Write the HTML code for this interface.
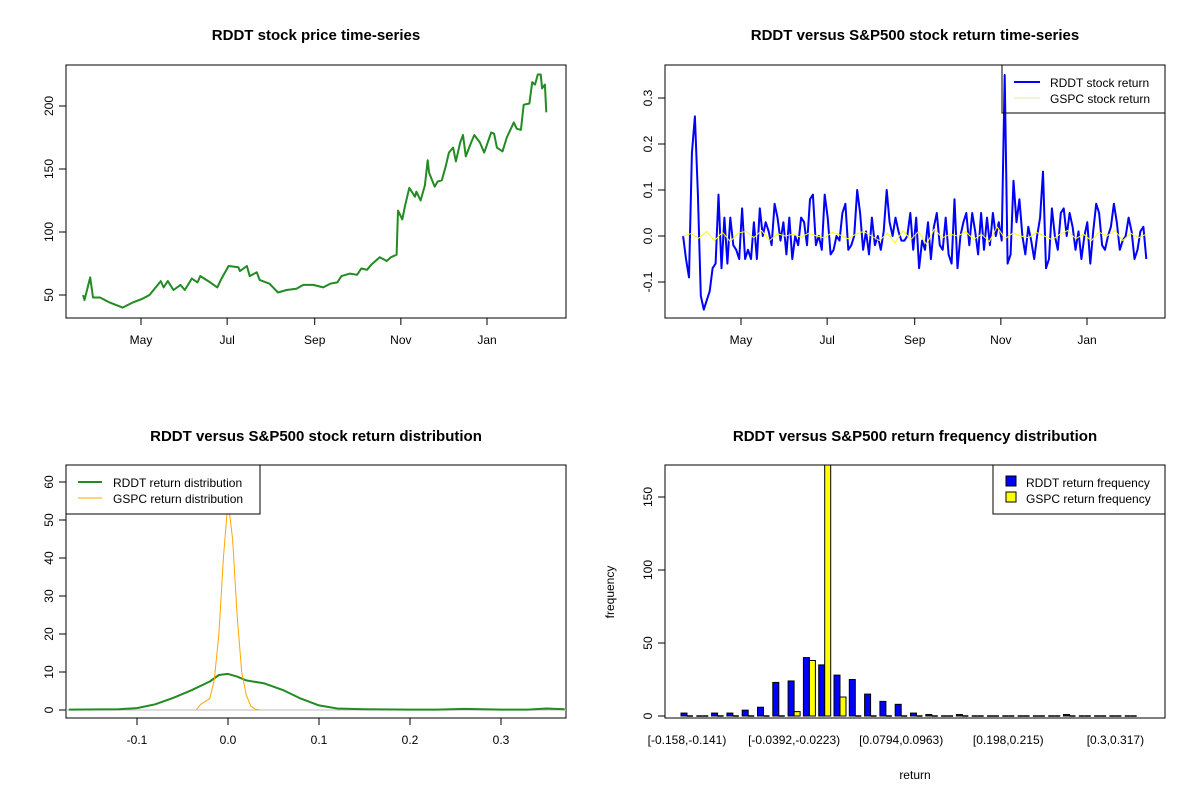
<!DOCTYPE html>
<html><head><meta charset="utf-8"><style>
body{margin:0;background:#fff;}
svg{display:block;font-family:"Liberation Sans",Arial,sans-serif;}
.t{font-weight:bold;font-size:15px;text-anchor:middle;}
.tk{font-size:12px;}
</style></head><body>
<svg id="c" width="1200" height="800"></svg>
<script>
// ---- Panel 1: price ----
const priceDays=[20,21,25,27,32,39,48,55,62,67,75,77,80,84,89,92,97,101,103,110,115,118,123,130,131,136,138,143,145,152,158,164,171,176,183,190,195,200,203,209,214,217,221,224,230,235,238,242,243,246,248,251,255,256,259,262,264,265,269,271,274,277,279,282,284,287,289,291,294,297,301,304,309,311,313,317,320,325,327,330,332,336,338,340,342,344,345,347,348];
const priceVals=[50,46,64,48,48,44,40,44,47,50,61,56,61,54,58,54,63,60,65,60,56,63,73,72,69,73,65,68,62,59,52,54,55,58,58,56,59,60,65,67,66,71,70,74,80,77,80,82,117,110,121,135,128,132,125,137,157,147,136,140,141,153,163,167,156,171,177,160,169,177,171,163,179,178,167,164,175,187,182,181,201,202,219,217,225,225,214,217,195];
const monthTicks=[61,122,184,245,306];
const monthLabels=["May","Jul","Sep","Nov","Jan"];
const priceTicks=[50,100,150,200];
// ---- Panel 2: returns ----
const rddtRet=[0,-0.05,-0.09,0.18,0.26,0.09,-0.13,-0.16,-0.14,-0.12,-0.07,-0.06,0.09,-0.07,0.04,-0.06,0.04,-0.02,-0.03,-0.05,0.06,-0.05,-0.03,-0.05,0.03,-0.05,0.06,0.0,0.03,0.01,-0.02,0.07,0.04,-0.01,0.03,-0.04,0.04,-0.05,0.0,-0.02,0.04,0.03,-0.02,0.08,0.09,-0.02,0.0,-0.03,0.09,0.04,-0.04,-0.03,0.0,-0.01,0.05,0.07,-0.03,-0.02,0.0,0.1,0.05,-0.03,0.01,-0.04,0.04,-0.02,0.0,-0.03,0.01,0.1,0.03,0.0,0.04,0.01,-0.01,-0.01,0.0,0.05,-0.03,0.04,-0.07,-0.01,-0.03,0.03,-0.05,0.02,0.05,-0.02,-0.03,0.04,-0.04,-0.06,0.08,-0.07,0.0,0.03,0.05,-0.02,0.05,0.01,-0.04,0.05,-0.03,0.04,-0.02,0.05,0.0,0.03,-0.01,0.35,-0.06,-0.04,0.12,0.03,0.08,0.0,-0.04,0.02,-0.01,-0.05,0.0,0.04,0.14,-0.07,-0.05,0.06,0.0,-0.03,0.05,0.06,0.0,0.05,0.02,-0.03,0.01,-0.05,0.0,0.03,-0.06,0.01,0.07,0.05,-0.02,-0.03,0.0,0.02,0.07,0.03,-0.03,-0.01,0.0,0.04,0.01,-0.05,-0.03,0.01,0.02,-0.05];
const gspcRet=[0,0.005,-0.005,0.01,-0.01,0.008,-0.012,0.006,0.01,-0.004,0.012,-0.01,0.005,0.0,0.004,-0.003,0.006,0.0,-0.004,0.008,0.002,-0.006,0.004,0.01,0.0,-0.01,0.006,-0.015,0.012,-0.008,0.01,-0.018,0.015,-0.004,0.004,0.0,0.01,-0.008,0.004,-0.012,0.02,-0.006,0.006,0.0,-0.004,0.008,0.0,-0.008,0.004,0.012,-0.006,0.004,-0.01,0.008,0.0,0.012,-0.01,0.006,-0.004,0.004];
const retTicks=[-0.1,0,0.1,0.2,0.3];
// ---- Panel 3: density ----
const rddtDx=[-0.175,-0.14,-0.12,-0.1,-0.08,-0.06,-0.04,-0.02,-0.01,0,0.01,0.02,0.04,0.06,0.08,0.1,0.12,0.15,0.2,0.23,0.26,0.3,0.33,0.35,0.37];
const rddtDy=[0.1,0.15,0.2,0.5,1.5,3.2,5.2,7.5,9.2,9.5,8.8,7.8,7,5.3,3,1.2,0.4,0.2,0.1,0.1,0.3,0.1,0.1,0.4,0.2];
const gspcDx=[-0.035,-0.03,-0.02,-0.015,-0.01,-0.005,0,0.005,0.01,0.015,0.02,0.025,0.03,0.035];
const gspcDy=[0,1.5,3,8,20,40,55,45,25,10,4,1,0.2,0];
const densXTicks=[-0.1,0,0.1,0.2,0.3];
const densYTicks=[0,10,20,30,40,50,60];
// ---- Panel 4: histogram ----
const rddtFreq=[2,0,2,2,4,6,23,24,40,35,28,25,15,10,8,2,1,0,1,0,0,0,0,0,0,1,0,0,0,0];
const gspcFreq=[0,0,0,0,0,0,0,3,38,174,13,0,0,0,0,0,0,0,0,0,0,0,0,0,0,0,0,0,0,0];
const binLabels={0:"[-0.158,-0.141)",7:"[-0.0392,-0.0223)",14:"[0.0794,0.0963)",21:"[0.198,0.215)",28:"[0.3,0.317)"};
const freqTicks=[0,50,100,150];

const svg=document.getElementById('c');const NS="http://www.w3.org/2000/svg";
function el(t,a,txt){const e=document.createElementNS(NS,t);for(const k in a)e.setAttribute(k,a[k]);if(txt!==undefined)e.textContent=txt;svg.appendChild(e);return e;}
function lin(d0,d1,r0,r1){return v=>r0+(v-d0)/(d1-d0)*(r1-r0);}
function box(x0,y0,x1,y1,n){const e=el('rect',{x:x0,y:y0,width:x1-x0,height:y1-y0,fill:'none',stroke:'#000','stroke-width':1});

}
function title(x,y,s,n){const e=el('text',{x:x,y:y,class:'t'},s);

}
function yTick(x,y,lab){el('line',{x1:x-7,y1:y,x2:x,y2:y,stroke:'#000'});
const e=el('text',{x:x-13,y:y,class:'tk','text-anchor':'middle',transform:`rotate(-90 ${x-13} ${y})`},lab);

}
function xTick(x,y,lab,noLine){if(!noLine)el('line',{x1:x,y1:y,x2:x,y2:y+7,stroke:'#000'});
const e=el('text',{x:x,y:y+26,class:'tk','text-anchor':'middle'},lab);

}
function poly(xs,ys,sx,sy,col,w,n){const p=xs.map((v,i)=>sx(v).toFixed(1)+','+sy(ys[i]).toFixed(1)).join(' ');
const e=el('polyline',{points:p,fill:'none',stroke:col,'stroke-width':w,'stroke-linejoin':'round'});

}
const dx=lin(61,306,141,487);

// Panel 1
title(316,40,"RDDT stock price time-series","price-title");
const py=lin(50,200,295,106);
box(66,65,566,318,"price-plot-area");
priceTicks.forEach(v=>yTick(66,py(v),String(v)));
monthTicks.forEach((d,i)=>xTick(dx(d),318,monthLabels[i]));
poly(priceDays,priceVals,dx,py,'#228b22',2,'price-line');

// Panel 2
title(915,40,"RDDT versus S&P500 stock return time-series","return-title");
const ry=lin(0,0.3,236,98);const dx2=v=>dx(v)+600;
box(665,65,1165,318,"return-plot-area");
retTicks.forEach(v=>yTick(665,ry(v),v===0?"0.0":v.toFixed(1)));
monthTicks.forEach((d,i)=>xTick(dx2(d),318,monthLabels[i]));
const rIdx=rddtRet.map((_,i)=>20+i*(348-20)/(rddtRet.length-1));
el('rect',{x:1002,y:65,width:163,height:48,fill:'#fff',stroke:'#000'});
poly(rIdx,rddtRet,dx2,ry,'#0000ff',2,'rddt-return-line');
const gIdx=gspcRet.map((_,i)=>20+i*(348-20)/(gspcRet.length-1));
poly(gIdx,gspcRet,dx2,ry,'#ffff00',1,'gspc-return-line');
el('rect',{x:1002,y:65,width:163,height:48,fill:'none',stroke:'#000'});
el('line',{x1:1014,y1:82,x2:1040,y2:82,stroke:'#0000ff','stroke-width':2});
el('text',{x:1050,y:87,class:'tk'},"RDDT stock return");
el('line',{x1:1014,y1:98,x2:1040,y2:98,stroke:'#e8e8a0','stroke-width':1});
el('text',{x:1050,y:103,class:'tk'},"GSPC stock return");

// Panel 3
title(316,441,"RDDT versus S&P500 stock return distribution","density-title");
const dX=lin(0,0.1,228,319),dY=lin(0,60,710,482);
box(66,465,566,718,"density-plot-area");
densYTicks.forEach(v=>yTick(66,dY(v),String(v)));
densXTicks.forEach(v=>xTick(dX(v),718,v===0?"0.0":v.toFixed(1)));
el('line',{x1:66,y1:dY(0),x2:566,y2:dY(0),stroke:'#bbb','stroke-width':1});
poly(rddtDx,rddtDy,dX,dY,'#228b22',2,'rddt-density-line');
poly(gspcDx,gspcDy,dX,dY,'#ffa500',1,'gspc-density-line');
el('rect',{x:66,y:465,width:194,height:49,fill:'#fff',stroke:'#000'});
el('line',{x1:78,y1:482,x2:102,y2:482,stroke:'#228b22','stroke-width':2});
el('text',{x:113,y:487,class:'tk'},"RDDT return distribution");
el('line',{x1:78,y1:498,x2:102,y2:498,stroke:'#ffa500','stroke-width':1});
el('text',{x:113,y:503,class:'tk'},"GSPC return distribution");

// Panel 4
title(915,441,"RDDT versus S&P500 return frequency distribution","histogram-title");
const fy=lin(0,150,716,497);const gx=i=>687+i*15.3;
box(665,465,1165,718,"histogram-plot-area");
freqTicks.forEach(v=>yTick(665,fy(v),String(v)));
function bar(i,v,off,col,n){const top=Math.max(fy(v),465);
if(v===0){const l=el('line',{x1:gx(i)+off,y1:fy(0),x2:gx(i)+off+6,y2:fy(0),stroke:'#000','stroke-width':1.5});

return;}
const r=el('rect',{x:gx(i)+off,y:top,width:6,height:fy(0)-top,fill:col,stroke:'#000','stroke-width':1});

}
rddtFreq.forEach((v,i)=>bar(i,v,-6,'#0000ff','bar-rddt'));
gspcFreq.forEach((v,i)=>bar(i,v,0,'#ffff00','bar-gspc'));
Object.keys(binLabels).forEach(k=>xTick(gx(+k),718,binLabels[k],true));
el('text',{x:915,y:779,class:'tk','text-anchor':'middle'},"return");
el('text',{x:614,y:592,class:'tk','text-anchor':'middle',transform:'rotate(-90 614 592)'},"frequency");
el('rect',{x:993,y:465,width:172,height:49,fill:'#fff',stroke:'#000'});
el('rect',{x:1006,y:476,width:10,height:10,fill:'#0000ff',stroke:'#000'});
el('text',{x:1026,y:487,class:'tk'},"RDDT return frequency");
el('rect',{x:1006,y:492,width:10,height:10,fill:'#ffff00',stroke:'#000'});
el('text',{x:1026,y:503,class:'tk'},"GSPC return frequency");
</script>
</body></html>
